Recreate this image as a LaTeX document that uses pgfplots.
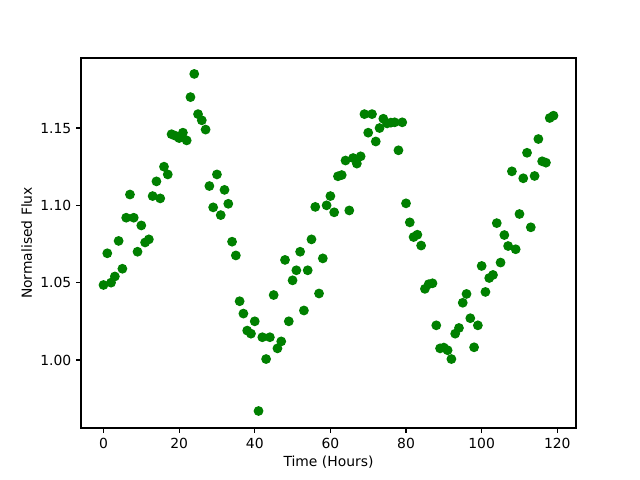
\documentclass[border=0pt]{standalone}
\usepackage{pgfplots}
\pgfplotsset{compat=1.18}
\usepackage{fontspec}
\setmainfont{DejaVu Sans}
\definecolor{mplgreen}{RGB}{0,128,0}
\begin{document}
\fontsize{10bp}{12bp}\selectfont
\begin{tikzpicture}
\begin{axis}[
  scale only axis,
  width=356.4bp, height=266.4bp,
  xmin=-5.95, xmax=124.95,
  ymin=0.956, ymax=1.1953,
  xtick={0,20,40,60,80,100,120},
  ytick={1.00,1.05,1.10,1.15},
  yticklabel style={/pgf/number format/.cd,fixed,fixed zerofill,precision=2},
  /pgf/number format/assume math mode=true,
  tick align=outside,
  tick pos=left,
  major tick length=3.5bp,
  tick style={black, line width=0.8bp},
  axis line style={line width=0.8bp},
  ticklabel style={font=\fontsize{10bp}{12bp}\selectfont},
  label style={font=\fontsize{10bp}{12bp}\selectfont},
  xlabel={Time (Hours)},
  ylabel={Normalised Flux},
  xlabel style={yshift=1bp},
  ylabel style={yshift=-1bp},
]
\addplot[only marks, mark=*, mark size=3bp, color=mplgreen, mark options={fill=mplgreen, draw=mplgreen, line width=1bp}] table {
x y
0 1.0485
1 1.069
2 1.050
3 1.054
4 1.077
5 1.059
6 1.092
7 1.107
8 1.092
9 1.070
10 1.087
11 1.076
12 1.078
13 1.106
14 1.1155
15 1.1045
16 1.125
17 1.120
18 1.146
19 1.145
20 1.1435
21 1.147
22 1.142
23 1.170
24 1.185
25 1.159
26 1.155
27 1.149
28 1.1125
29 1.0987
30 1.120
31 1.0937
32 1.110
33 1.101
34 1.0765
35 1.0676
36 1.038
37 1.030
38 1.019
39 1.017
40 1.025
41 0.967
42 1.0147
43 1.0006
44 1.0147
45 1.042
46 1.0075
47 1.012
48 1.0647
49 1.025
50 1.0515
51 1.058
52 1.070
53 1.032
54 1.058
55 1.078
56 1.099
57 1.043
58 1.0657
59 1.100
60 1.106
61 1.0955
62 1.1188
63 1.1196
64 1.129
65 1.0967
66 1.1306
67 1.127
68 1.1317
69 1.159
70 1.147
71 1.159
72 1.1413
73 1.150
74 1.156
75 1.153
76 1.1535
77 1.1537
78 1.1356
79 1.1537
80 1.1013
81 1.089
82 1.0795
83 1.081
84 1.074
85 1.046
86 1.049
87 1.0496
88 1.0224
89 1.0075
90 1.008
91 1.0063
92 1.0006
93 1.017
94 1.0207
95 1.037
96 1.0427
97 1.027
98 1.0082
99 1.0224
100 1.0608
101 1.044
102 1.053
103 1.055
104 1.0885
105 1.063
106 1.0808
107 1.0737
108 1.122
109 1.0716
110 1.0944
111 1.1175
112 1.134
113 1.0858
114 1.119
115 1.1429
116 1.1285
117 1.1276
118 1.1565
119 1.158
};
\end{axis}
\pgfresetboundingbox
\path (current axis.south west) ++(-58.32bp,-37.44bp) rectangle ++(460.8bp,345.6bp);
\end{tikzpicture}
\end{document}
